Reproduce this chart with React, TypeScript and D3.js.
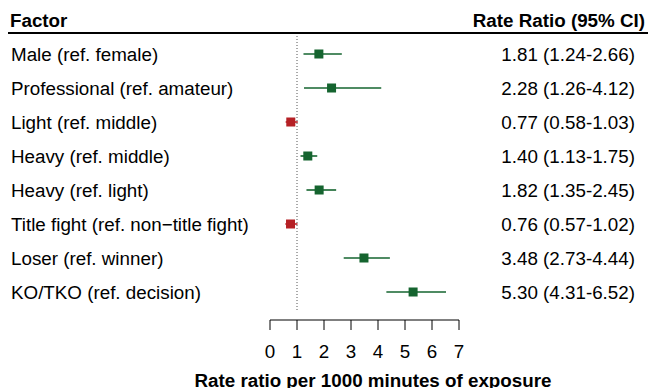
import React from "react";
import * as d3 from "d3";

const factors = [
  "Male (ref. female)",
  "Professional (ref. amateur)",
  "Light (ref. middle)",
  "Heavy (ref. middle)",
  "Heavy (ref. light)",
  "Title fight (ref. non\u2212title fight)",
  "Loser (ref. winner)",
  "KO/TKO (ref. decision)",
];
const estimates = [1.81, 2.28, 0.77, 1.4, 1.82, 0.76, 3.48, 5.3];
const lower = [1.24, 1.26, 0.58, 1.13, 1.35, 0.57, 2.73, 4.31];
const upper = [2.66, 4.12, 1.03, 1.75, 2.45, 1.02, 4.44, 6.52];
const ticks = [0, 1, 2, 3, 4, 5, 6, 7];

const W = 652;
const H = 388;
const FONT = "'Liberation Sans', Arial, sans-serif";
const FS = 18.8;
const GREEN = "#15642f";
const RED = "#b52025";

export default function App() {
  const x = d3.scaleLinear().domain([0, 7]).range([270, 459]);
  const y = d3
    .scalePoint<string>()
    .domain(factors)
    .range([54, 292]);
  const fmt = d3.format(".2f");

  return (
    <svg
      width={W}
      height={H}
      style={{ position: "absolute", left: 0, top: 0, display: "block", background: "#fff" }}
      fontFamily={FONT}
    >
      <text x={10} y={26.5} fontSize={FS} fontWeight="bold" fill="#000">
        Factor
      </text>
      <text x={645} y={26.5} fontSize={FS} fontWeight="bold" fill="#000" textAnchor="end">
        Rate Ratio (95% CI)
      </text>
      <line x1={8} x2={648} y1={33} y2={33} stroke="#000" strokeWidth={2} />

      <line
        x1={x(1)}
        x2={x(1)}
        y1={36}
        y2={310}
        stroke="#555"
        strokeWidth={1}
        strokeDasharray="1,2"
      />

      {factors.map((f, i) => {
        const cy = y(f)!;
        const col = estimates[i] < 1 ? RED : GREEN;
        return (
          <g key={f}>
            <text x={11} y={cy + 6.5} fontSize={FS} fill="#000">
              {f}
            </text>
            <text x={635} y={cy + 6.5} fontSize={FS} fill="#000" textAnchor="end">
              {`${fmt(estimates[i])} (${fmt(lower[i])}-${fmt(upper[i])})`}
            </text>
            <line
              x1={x(lower[i])}
              x2={x(upper[i])}
              y1={cy}
              y2={cy}
              stroke={col}
              strokeWidth={1.6}
            />
            <rect x={x(estimates[i]) - 4.5} y={cy - 4.5} width={9} height={9} fill={col} />
          </g>
        );
      })}

      <line x1={x(0)} x2={x(7)} y1={320} y2={320} stroke="#000" strokeWidth={1} />
      {ticks.map((t) => (
        <g key={t}>
          <line x1={x(t)} x2={x(t)} y1={320} y2={330} stroke="#000" strokeWidth={1} />
          <text x={x(t)} y={357.5} fontSize={FS} textAnchor="middle" fill="#000">
            {t}
          </text>
        </g>
      ))}
      <text x={373} y={386.5} fontSize={FS} fontWeight="bold" textAnchor="middle" fill="#000">
        Rate ratio per 1000 minutes of exposure
      </text>
    </svg>
  );
}
